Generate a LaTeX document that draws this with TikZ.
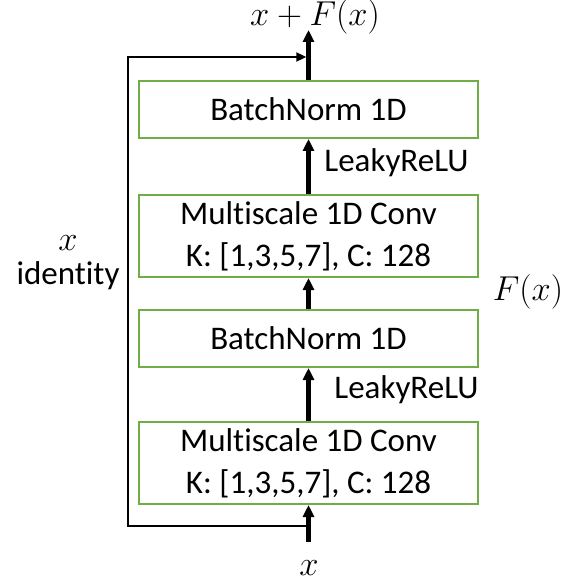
\documentclass[tikz,border=0pt]{standalone}
\usepackage{fontspec}
\setmainfont{Carlito}[Ligatures=NoCommon]
\usetikzlibrary{arrows.meta}
\definecolor{boxgreen}{RGB}{112,173,71}
\begin{document}
\begin{tikzpicture}[x=0.5pt,y=-0.5pt,
  blk/.style={draw=boxgreen, line width=1pt, minimum width=169.5pt, inner sep=0pt,
    font=\fontsize{16.5}{21}\selectfont, align=center},
  flow/.style={line width=2.2pt, -{Triangle[length=6pt,width=5.5pt]}},
  skipline/.style={line width=1pt, -{Triangle[length=5pt,width=4.5pt]}},
  lbl/.style={font=\fontsize{16.5}{17}\selectfont, inner sep=0pt}]
\useasboundingbox (0,0) rectangle (576,588);
\node[blk, minimum height=28.5pt] (bn2) at (308.5,109.5) {BatchNorm 1D};
\node[blk, minimum height=41pt] (mc2) at (308.5,236) {Multiscale 1D Conv\\K: [1,3,5,7], C: 128};
\node[blk, minimum height=28.5pt] (bn1) at (308.5,338.5) {BatchNorm 1D};
\node[blk, minimum height=41pt] (mc1) at (308.5,463) {Multiscale 1D Conv\\K: [1,3,5,7], C: 128};
\coordinate (in) at (308.5,542);
\coordinate (out) at (308.5,30);
\coordinate (split) at (308.5,526);
\coordinate (merge) at (308.5,57);
\coordinate (c1) at (128,526);
\coordinate (c2) at (128,57);
\draw[flow] (in) -- (mc1.south);
\draw[flow] (mc1.north) -- (bn1.south);
\draw[flow] (bn1.north) -- (mc2.south);
\draw[flow] (mc2.north) -- (bn2.south);
\draw[flow] (bn2.north) -- (out);
\draw[skipline] (split) -- (c1) -- (c2) -- ([xshift=-1.1pt]merge);
\node[lbl, anchor=west] (lr2) at (324,163) {LeakyReLU};
\node[lbl, anchor=west] (lr1) at (334,390) {LeakyReLU};
\node[lbl] (sum) at (315,17) {$x+F(x)$};
\node[lbl] (xin) at (309,568) {$x$};
\node[lbl] (fx) at (528,292) {$F(x)$};
\node[lbl, align=center] (id) at (68,263) {$x$\\identity};
\end{tikzpicture}
\end{document}
